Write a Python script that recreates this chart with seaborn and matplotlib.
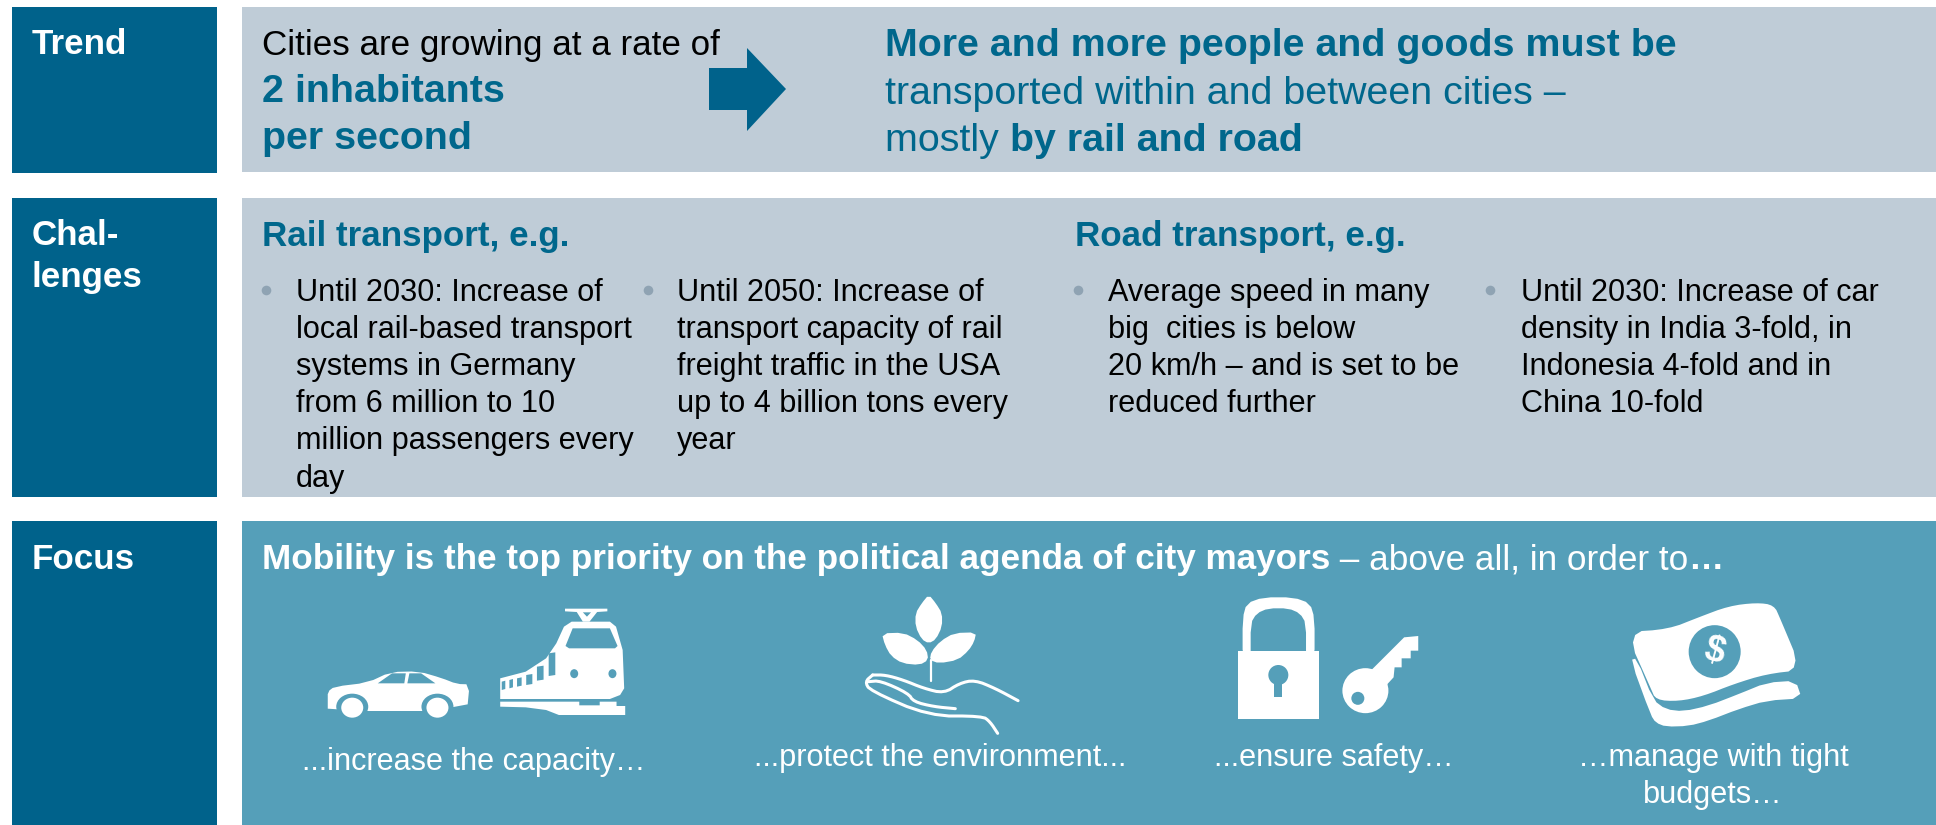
import matplotlib
matplotlib.use('Agg')
import matplotlib.pyplot as plt
import seaborn as sns
from matplotlib.patches import Ellipse, Polygon, Rectangle

# colours
DARK, LIGHT, TEAL, BULLET = sns.color_palette(['#00628b', '#bfccd7', '#559fb9', '#8fa3b3'])
TITLE = '#00678c'

row_tops = [7, 198, 521]
row_bottoms = [173, 497, 825]
row_names = [['Trend'], ['Chal-', 'lenges'], ['Focus']]
row_name_y = [[54], [245, 287], [569]]

rail_1 = ['Until 2030: Increase of', 'local rail-based transport', 'systems in Germany',
          'from 6 million to 10', 'million passengers every', 'day']
rail_2 = ['Until 2050: Increase of', 'transport capacity of rail', 'freight traffic in the USA',
          'up to 4 billion tons every', 'year']
road_1 = ['Average speed in many', 'big  cities is below', '20 km/h \u2013 and is set to be', 'reduced further']
road_2 = ['Until 2030: Increase of car', 'density in India 3-fold, in', 'Indonesia 4-fold and in', 'China 10-fold']
bullet_y = [301, 338, 375, 412, 449, 487]

sns.set_theme(style='white')
plt.rcParams['font.family'] = ['Liberation Sans', 'DejaVu Sans']

fig, ax = plt.subplots(figsize=(19.36, 8.25), dpi=100)
fig.subplots_adjust(0, 0, 1, 1)
ax.set_xlim(0, 1936)
ax.set_ylim(825, 0)
ax.axis('off')
sns.despine(ax=ax, left=True, bottom=True)

FS = 25.2
BIG = 28.4
HEAD = 25.2
BODY = 22.1


def write(x, y, parts, size=FS, ha='left'):
    # parts is a list of (text, colour, bold), laid out one after the other
    for txt, col, bold in parts:
        t = ax.text(x, y, txt, color=col, fontsize=size, va='baseline', ha=ha,
                    fontweight='bold' if bold else 'normal', parse_math=False)
        x += t.get_window_extent(fig.canvas.get_renderer()).width


def z2(pts):
    return [(240 + x / 1.96, 560 + y / 3) for x, y in pts]


def z3(pts):
    return [(1150 + x / 1.987, 560 + y / 3) for x, y in pts]


def smooth(pts, n=2, closed=True):
    # corner cutting, the traced icons have few points
    for _ in range(n):
        new = [] if closed else [pts[0]]
        count = len(pts) if closed else len(pts) - 1
        for i in range(count):
            (x0, y0), (x1, y1) = pts[i], pts[(i + 1) % len(pts)]
            new.append((0.75 * x0 + 0.25 * x1, 0.75 * y0 + 0.25 * y1))
            new.append((0.25 * x0 + 0.75 * x1, 0.25 * y0 + 0.75 * y1))
        pts = new if closed else new + [pts[-1]]
    return pts


def poly(pts, col='white'):
    ax.add_patch(Polygon(pts, closed=True, fc=col, ec='none'))


def oval(xy, rx, ry, col='white'):
    ax.add_patch(Ellipse(xy, 2 * rx, 2 * ry, fc=col, ec='none'))


# panels
for top, bottom in zip(row_tops, row_bottoms):
    ax.add_patch(Rectangle((12, top), 205, bottom - top, fc=DARK, ec='none'))
ax.add_patch(Rectangle((242, 7), 1694, 165, fc=LIGHT, ec='none'))
ax.add_patch(Rectangle((242, 198), 1694, 299, fc=LIGHT, ec='none'))
ax.add_patch(Rectangle((242, 521), 1694, 304, fc=TEAL, ec='none'))

for names, ys in zip(row_names, row_name_y):
    for name, y in zip(names, ys):
        write(32, y, [(name, 'white', True)], size=HEAD)

# trend row
write(262, 55, [('Cities are growing at a rate of', 'black', False)])
write(262, 102, [('2 inhabitants', TITLE, True)], size=BIG)
write(262, 149, [('per second', TITLE, True)], size=BIG)
poly([(709, 68), (747, 68), (747, 48), (786, 89), (747, 131), (747, 110), (709, 110)], DARK)
write(885, 56, [('More and more people and goods must be', TITLE, True)], size=BIG)
write(885, 104, [('transported within and between cities \u2013', TITLE, False)], size=BIG)
write(885, 151, [('mostly ', TITLE, False), ('by rail and road', TITLE, True)], size=BIG)

# challenges row
write(262, 246, [('Rail transport, e.g.', TITLE, True)], size=HEAD)
write(1075, 246, [('Road transport, e.g.', TITLE, True)], size=HEAD)
bullet_x = [266, 648, 1078, 1490]
text_x = [296, 677, 1108, 1521]
for tx, lines in zip(text_x, [rail_1, rail_2, road_1, road_2]):
    for line, y in zip(lines, bullet_y):
        write(tx, y, [(line, 'black', False)], size=BODY)
sns.scatterplot(x=bullet_x, y=[290] * 4, s=48, color=BULLET, linewidth=0, ax=ax, legend=False, zorder=3)

# focus row
write(262, 569, [('Mobility is the top priority on the political agenda of city mayors', 'white', True),
                 (' \u2013 above all, in order to', 'white', False), ('\u2026', 'white', True)], size=25.3)
write(474, 770, [('...increase the capacity\u2026', 'white', False)], size=BODY, ha='center')
write(940, 766, [('...protect the environment...', 'white', False)], size=BODY, ha='center')
write(1334, 766, [('...ensure safety\u2026', 'white', False)], size=BODY, ha='center')
write(1713, 766, [('\u2026manage with tight', 'white', False)], size=BODY, ha='center')
write(1713, 803, [('budgets\u2026', 'white', False)], size=BODY, ha='center')

# car
poly(z2(smooth([(172, 425), (172, 395), (185, 380), (250, 368), (295, 336), (350, 334), (395, 354), (425, 372),
                (450, 373), (445, 453), (172, 453)], 1)))
poly(z2([(270, 370), (298, 340), (325, 340), (322, 370)]), TEAL)
poly(z2([(328, 370), (332, 340), (355, 340), (383, 370)]), TEAL)
for wx in (220, 387):
    oval(z2([(wx, 440)])[0], 16, 13, TEAL)
    oval(z2([(wx, 443)])[0], 11, 10)

# train
poly(z2([(510, 355), (560, 335), (600, 295), (620, 250), (635, 200), (650, 185), (725, 185), (737, 200),
         (750, 270), (753, 385), (745, 405), (725, 417), (510, 417)]))
poly(z2([(638, 258), (652, 205), (725, 205), (740, 258), (735, 265), (645, 265)]), TEAL)
oval(z2([(655, 341)])[0], 4, 4.5, TEAL)
oval(z2([(730, 341)])[0], 4, 4.5, TEAL)
for x0, x1, y0, y1 in [(513, 520, 365, 390), (528, 535, 360, 385), (543, 552, 355, 380),
                       (561, 573, 345, 375), (582, 595, 320, 362), (605, 618, 280, 348)]:
    poly(z2([(x0, y0), (x1, y0 - 3), (x1, y1 - 3), (x0, y1)]), TEAL)
poly(z2([(637, 146), (720, 146), (720, 154), (700, 156), (685, 185), (672, 185), (660, 156), (637, 154)]))
poly(z2([(672, 157), (688, 157), (680, 170)]), TEAL)
poly(z2([(510, 425), (665, 425), (665, 436), (705, 436), (705, 425), (738, 425), (738, 438), (755, 438),
         (755, 465), (625, 465), (600, 450), (560, 442), (510, 440)]))

# plant and hand
poly(z2(smooth([(1350, 104), (1364, 130), (1376, 160), (1376, 200), (1364, 238), (1350, 250), (1336, 238),
                (1324, 200), (1324, 160), (1336, 130)], 1)))
poly(z2(smooth([(1258, 220), (1300, 218), (1328, 240), (1346, 270), (1349, 300), (1332, 315), (1298, 310),
                (1276, 288), (1264, 255)], 1)))
poly(z2(smooth([(1443, 217), (1400, 219), (1373, 243), (1355, 275), (1352, 300), (1370, 310), (1407, 300),
                (1428, 272), (1439, 245)], 1)))
ax.plot(*zip(*z2([(1354, 300), (1354, 362)])), color='white', lw=1.6, solid_capstyle='round')
for stroke in [[(1240, 345), (1225, 365), (1235, 392), (1350, 468), (1455, 468), (1470, 485), (1485, 520)],
               [(1240, 345), (1265, 345), (1300, 360), (1340, 385), (1380, 400), (1410, 370), (1440, 360),
                (1480, 385), (1525, 422)],
               [(1232, 365), (1255, 362), (1310, 400), (1320, 425), (1360, 440), (1402, 446)]]:
    ax.plot(*zip(*z2(smooth(stroke, 2, closed=False))), color='white', lw=2.2, solid_capstyle='round',
            solid_joinstyle='round')

# lock and key
poly(z3([(174, 273), (335, 273), (335, 476), (174, 476)]))
poly(z3(smooth([(184, 300), (184, 175), (192, 130), (225, 112), (285, 112), (318, 130), (327, 175), (327, 300),
                (310, 300), (310, 190), (298, 160), (275, 145), (235, 145), (212, 160), (200, 190),
                (200, 300)], 1)))
oval(z3([(255, 345)])[0], 10, 10, TEAL)
poly(z3([(246, 360), (263, 360), (263, 412), (246, 412)]), TEAL)
oval(z3([(428, 392)])[0], 23, 22.5)
oval(z3([(413, 415)])[0], 6.5, 6.5, TEAL)
poly(z3([(440, 330), (505, 232), (533, 228), (533, 272), (518, 272), (518, 295), (500, 295), (500, 322),
         (486, 322), (484, 352), (470, 375), (470, 400), (430, 390)]))

# money
poly(z3(smooth([(945, 216), (1030, 208), (1090, 172), (1150, 138), (1205, 128), (1240, 135), (1252, 175),
                (1295, 330), (1225, 342), (1160, 372), (1100, 408), (1050, 424), (1005, 420), (995, 385)], 2)))
poly(z3(smooth([(955, 300), (967, 295), (1000, 420), (1025, 448), (1060, 454), (1110, 437), (1170, 402), (1225, 368),
                (1283, 362), (1295, 415), (1225, 422), (1170, 447), (1110, 482), (1070, 498), (1025, 500),
                (1005, 488), (995, 465)], 1)))
oval(z3([(1122, 275)])[0], 26, 26.5, TEAL)
cx, cy = z3([(1122, 275)])[0]
ax.text(cx, cy, '$', color='white', fontsize=26, fontweight='bold', ha='center', va='center',
        rotation=-15, parse_math=False)

fig.savefig('out.png', dpi=100)
